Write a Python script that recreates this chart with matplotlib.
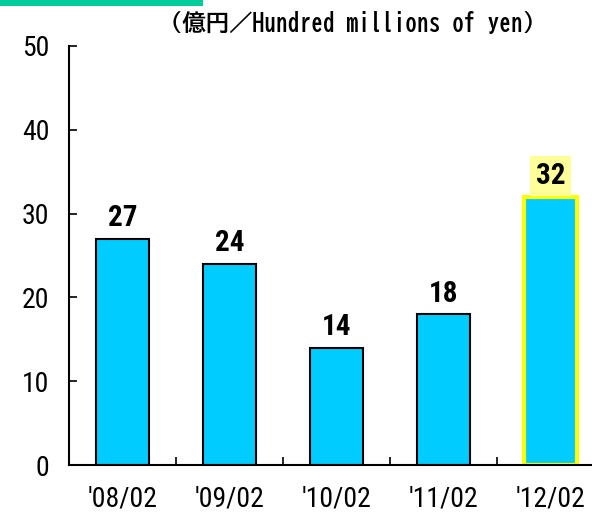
import matplotlib
matplotlib.use("Agg")
import matplotlib.pyplot as plt
from matplotlib.patches import Rectangle

categories = ["'08/02", "'09/02", "'10/02", "'11/02", "'12/02"]
values = [27, 24, 14, 18, 32]
y_ticks = [0, 10, 20, 30, 40, 50]
unit_label = "（億円／Hundred millions of yen）"

NUM_FONT = ["Roboto Condensed", "DejaVu Sans"]
plt.rcParams["font.family"] = NUM_FONT

W, H = 592, 515
fig = plt.figure(figsize=(W / 100, H / 100), dpi=100)
ax = fig.add_axes([69 / W, 50 / H, 535 / W, 419 / H])

x = range(len(categories))
bars = ax.bar(x, values, width=0.5, color="#00CCFF", edgecolor="black", linewidth=1.5, zorder=2)
# latest year gets the yellow outline
bars[-1].set_edgecolor("#FFFF00")
bars[-1].set_linewidth(3)

for i, v in enumerate(values):
    kw = {}
    if i == len(values) - 1:
        kw["bbox"] = dict(boxstyle="square,pad=0.2", facecolor="#FFFF99", edgecolor="none")
    ax.text(i, v + 1.5, str(v), ha="center", va="baseline", fontsize=21,
            fontweight="bold", **kw)

ax.set_xlim(-0.5, len(categories) - 0.5)
ax.set_ylim(0, 50)
ax.set_yticks(y_ticks)
ax.set_yticklabels([str(t) for t in y_ticks], fontsize=20)
ax.tick_params(axis="y", direction="in", length=6, width=1.2, pad=14)

ax.set_xticks([i - 0.5 for i in range(1, len(categories))])
ax.set_xticklabels([])
ax.tick_params(axis="x", direction="in", length=6, width=1.2)
ax.set_xticks(list(x), minor=True)
ax.set_xticklabels(categories, minor=True, fontsize=20)
ax.tick_params(axis="x", which="minor", length=0, pad=15)

for s in ("top", "right"):
    ax.spines[s].set_visible(False)
for s in ("left", "bottom"):
    ax.spines[s].set_linewidth(1.5)

fig.text(353 / W, 1 - 23 / H, unit_label, ha="center", va="center", fontsize=16.8,
         fontweight="bold", family=["BIZ UDGothic", "Noto Sans CJK JP", "DejaVu Sans"])
fig.patches.append(Rectangle((0, 1 - 6 / H), 203 / W, 6 / H, transform=fig.transFigure,
                             facecolor="#00CC99", edgecolor="none"))

fig.savefig("out.png", dpi=100)
